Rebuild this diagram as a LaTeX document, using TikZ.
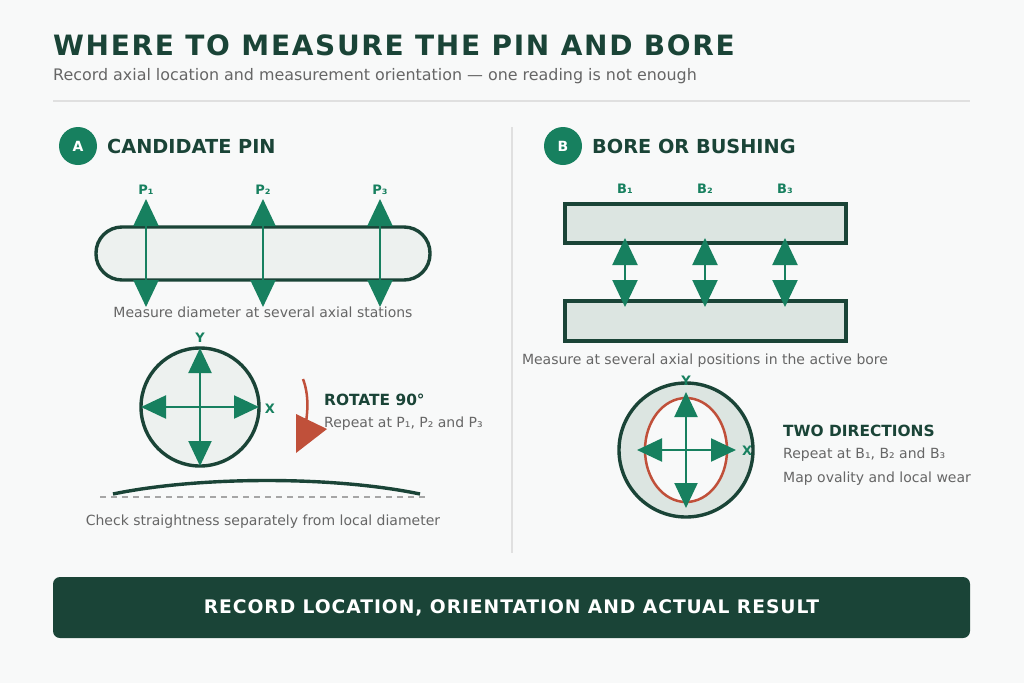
\documentclass[tikz,border=0pt]{standalone}
\usepackage{fontspec}
\setmainfont{DejaVu Sans}
\usetikzlibrary{arrows.meta}
\definecolor{dg}{HTML}{1A4437}
\definecolor{gr}{HTML}{17805F}
\definecolor{tx}{HTML}{666666}
\definecolor{pf}{HTML}{EDF1EF}
\definecolor{bf}{HTML}{DCE5E1}
\definecolor{rd}{HTML}{C0503A}
\definecolor{bg}{HTML}{F8F9F9}
\begin{document}
\begin{tikzpicture}[x=1pt,y=-1pt,
  meas/.style={draw=gr,line width=2.2pt,{Triangle[width=25pt,length=27pt]}-{Triangle[width=25pt,length=27pt]}},
  smeas/.style={draw=gr,line width=2.2pt,{Triangle[width=23pt,length=25pt]}-{Triangle[width=23pt,length=25pt]}},
  lab/.style={text=gr,font=\bfseries\fontsize{13}{15}\selectfont},
  capt/.style={text=tx,font=\fontsize{14}{16}\selectfont},
  head/.style={text=dg,font=\bfseries\fontsize{19.3}{22}\selectfont,anchor=west},
  badge/.style={circle,fill=gr,minimum size=38pt,inner sep=0pt,text=white,font=\bfseries\fontsize{14}{16}\selectfont},
  part/.style={draw=dg,line width=3.4pt}]
\fill[bg] (0,0) rectangle (1024,683);
\useasboundingbox (0,0) rectangle (1024,683);
\node[anchor=west,inner sep=0pt,text=dg,font=\addfontfeatures{LetterSpace=6}\bfseries\fontsize{28}{31}\selectfont] (title) at (53,45) {WHERE TO MEASURE THE PIN AND BORE};
\node[anchor=west,inner sep=0pt,text=tx,font=\fontsize{15.9}{18}\selectfont] (sub) at (53,76) {Record axial location and measurement orientation — one reading is not enough};
\draw[draw=black!12,line width=1.5pt] (53,101) -- (970,101);
\draw[draw=black!12,line width=1.5pt] (512,127) -- (512,553);
% A
\node[badge] (ba) at (78,146) {A};
\node[head,inner sep=0pt] (ha) at (107,146) {CANDIDATE PIN};
\draw[part,fill=pf,rounded corners=26pt] (96,227) rectangle (430,280);
\foreach \x/\n in {146/1,263/2,380/3}{
  \coordinate (pt\n) at (\x,199); \coordinate (pb\n) at (\x,307);
  \draw[meas] (pt\n) -- (pb\n);
  \node[lab] (pl\n) at (\x,190) {P\ifcase\n\or₁\or₂\or₃\fi};
}
\node[capt] (c1) at (263,312) {Measure diameter at several axial stations};
\draw[part,fill=pf] (200,407) circle (59);
\coordinate (cy1) at (200,348); \coordinate (cy2) at (200,466);
\coordinate (cx1) at (141,407); \coordinate (cx2) at (259,407);
\draw[smeas] (cy1) -- (cy2);
\draw[smeas] (cx1) -- (cx2);
\node[lab] (ly) at (200,338) {Y};
\node[lab] (lx) at (270,409) {X};
\coordinate (r1) at (303,379); \coordinate (r2) at (305,428);
\draw[draw=rd,line width=2.5pt] (r1) .. controls (309,395) and (308,412) .. (r2);
\fill[rd] (296,414) -- (327,429) -- (296,453) -- cycle;
\node[anchor=west,inner sep=0pt,text=dg,font=\bfseries\fontsize{15.4}{18}\selectfont] (rot) at (324,400) {ROTATE 90°};
\node[anchor=west,inner sep=0pt,capt] (rep1) at (324,424) {Repeat at P₁, P₂ and P₃};
\draw[draw=black!35,line width=1.3pt,dash pattern=on 6pt off 5pt] (100,497) -- (428,497);
\draw[draw=dg,line width=3.4pt] (113,494) .. controls (200,476) and (334,476) .. (420,494);
\node[capt] (c2) at (263,522) {Check straightness separately from local diameter};
% B
\node[badge] (bb) at (563,146) {B};
\node[head,inner sep=0pt] (hb) at (592,146) {BORE OR BUSHING};
\draw[part,fill=bf] (565,204) rectangle (846,243);
\draw[part,fill=bf] (565,301) rectangle (846,341);
\foreach \x/\n in {625/1,705/2,785/3}{
  \coordinate (bt\n) at (\x,238); \coordinate (bbo\n) at (\x,307);
  \draw[meas] (bt\n) -- (bbo\n);
  \node[lab] (bl\n) at (\x,189) {B\ifcase\n\or₁\or₂\or₃\fi};
}
\node[capt] (c3) at (705,361) {Measure at several axial positions in the active bore};
\draw[part,fill=bf] (686,450) circle (67);
\draw[draw=rd,line width=2.5pt,fill=bg] (686,450) ellipse (41 and 52);
\coordinate (ey1) at (686,392); \coordinate (ey2) at (686,508);
\coordinate (ex1) at (637,450); \coordinate (ex2) at (736,450);
\draw[smeas] (ey1) -- (ey2);
\draw[smeas] (ex1) -- (ex2);
\node[lab] (ly2) at (686,381) {Y};
\node[lab] (lx2) at (747,451) {X};
\node[anchor=west,inner sep=0pt,text=dg,font=\bfseries\fontsize{15.4}{18}\selectfont] (two) at (783,431) {TWO DIRECTIONS};
\node[anchor=west,inner sep=0pt,capt] (rep2) at (783,455) {Repeat at B₁, B₂ and B₃};
\node[anchor=west,inner sep=0pt,capt] (map) at (783,479) {Map ovality and local wear};
% bottom
\fill[dg,rounded corners=7pt] (53,577) rectangle (970,638);
\node[text=white,font=\addfontfeatures{LetterSpace=5}\bfseries\fontsize{18.7}{21}\selectfont] (bar) at (511.5,608) {RECORD LOCATION, ORIENTATION AND ACTUAL RESULT};
\end{tikzpicture}
\end{document}
